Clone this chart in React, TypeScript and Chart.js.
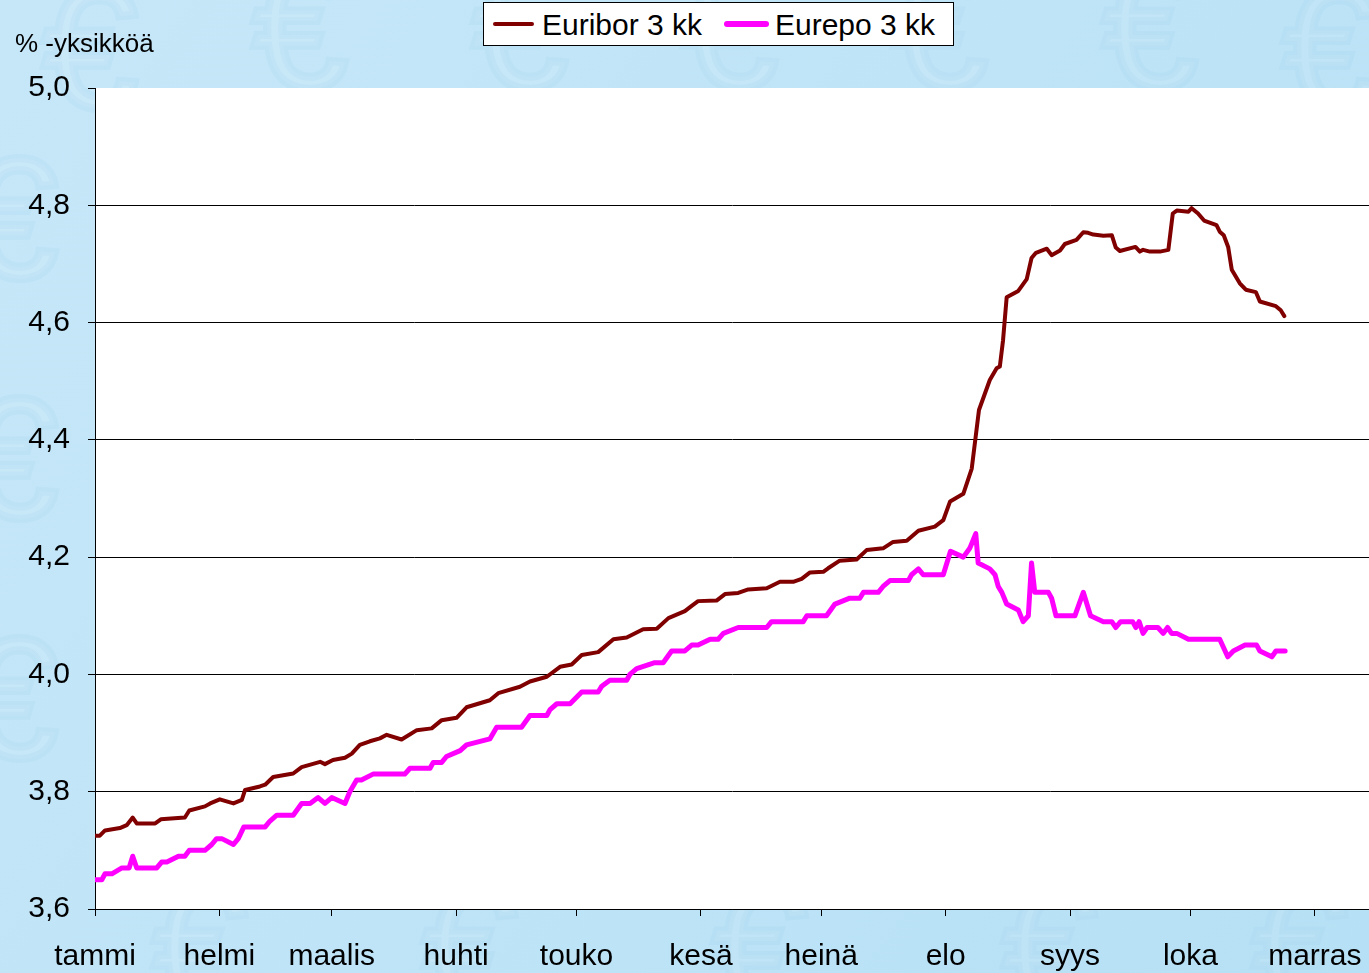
import React, { useEffect, useRef } from 'react';
import { Chart, registerables } from 'chart.js';
Chart.register(...registerables);

const FONT = '"Liberation Sans", Arial, Helvetica, sans-serif';

// Month tick labels (Finnish) and their day-of-year positions
const monthLabels = ['tammi', 'helmi', 'maalis', 'huhti', 'touko', 'kesä', 'heinä', 'elo', 'syys', 'loka', 'marras'];
const monthStartDays = [0, 31, 59, 90, 120, 151, 181, 212, 243, 273, 304];
const yTickValues = [3.6, 3.8, 4.0, 4.2, 4.4, 4.6, 4.8, 5.0];

// Euribor 3 kk (day of year, %)
const euriborDays = [0, 1.2, 2.5, 6.2, 7.9, 9.4, 10.4, 15.0, 16.4, 22.4, 23.5, 27.4, 28.7, 31.1, 34.5, 36.6, 37.4, 41.1, 42.4, 44.4, 49.4, 51.5, 56.1, 57.3, 59.3, 62.3, 64.0, 66.0, 68.5, 71.0, 72.7, 76.4, 80.2, 83.9, 86.4, 90.1, 92.6, 98.4, 100.5, 105.9, 108.4, 112.6, 115.9, 118.8, 121.3, 125.4, 129.2, 132.5, 136.6, 140.0, 142.9, 147.0, 148.7, 150.3, 154.9, 157.0, 160.3, 162.8, 167.4, 170.7, 174.0, 176.1, 178.2, 181.5, 182.7, 185.6, 189.8, 192.3, 196.4, 198.9, 202.3, 205.2, 209.3, 211.4, 213.1, 216.4, 218.5, 220.3, 223.0, 224.7, 225.5, 226.3, 227.2, 230.1, 232.2, 233.4, 234.5, 237.2, 238.4, 240.5, 241.7, 244.6, 246.3, 247.5, 248.8, 251.3, 253.4, 254.4, 255.4, 259.3, 260.4, 261.2, 262.9, 265.4, 267.5, 268.6, 269.6, 272.5, 273.3, 274.9, 276.4, 279.5, 280.3, 281.3, 282.4, 283.3, 285.3, 286.8, 289.3, 290.3, 294.3, 295.5, 296.4];
const euribor = [3.725, 3.725, 3.734, 3.738, 3.743, 3.756, 3.746, 3.746, 3.753, 3.756, 3.768, 3.775, 3.780, 3.787, 3.780, 3.786, 3.803, 3.809, 3.812, 3.825, 3.831, 3.842, 3.851, 3.847, 3.854, 3.858, 3.865, 3.880, 3.886, 3.891, 3.897, 3.889, 3.905, 3.908, 3.922, 3.926, 3.944, 3.956, 3.968, 3.979, 3.988, 3.996, 4.013, 4.017, 4.033, 4.038, 4.060, 4.063, 4.077, 4.078, 4.096, 4.108, 4.117, 4.125, 4.126, 4.137, 4.139, 4.145, 4.147, 4.158, 4.158, 4.163, 4.174, 4.175, 4.181, 4.194, 4.196, 4.212, 4.215, 4.226, 4.228, 4.245, 4.252, 4.263, 4.295, 4.308, 4.351, 4.451, 4.502, 4.522, 4.525, 4.570, 4.643, 4.654, 4.674, 4.710, 4.719, 4.726, 4.715, 4.723, 4.734, 4.741, 4.754, 4.753, 4.750, 4.748, 4.749, 4.728, 4.722, 4.729, 4.721, 4.724, 4.721, 4.721, 4.724, 4.786, 4.791, 4.789, 4.795, 4.786, 4.774, 4.766, 4.755, 4.749, 4.729, 4.690, 4.667, 4.656, 4.652, 4.636, 4.628, 4.621, 4.611];

// Eurepo 3 kk (day of year, %)
const eurepoDays = [0, 1.7, 2.5, 4.2, 6.7, 8.5, 9.4, 10.4, 15.4, 16.6, 17.9, 20.8, 22.4, 23.5, 27.4, 29.1, 30.3, 31.6, 34.5, 35.7, 37.1, 42.4, 43.6, 45.3, 49.4, 51.5, 53.6, 55.6, 57.3, 59.0, 62.3, 63.5, 65.2, 66.4, 69.3, 77.2, 78.5, 83.5, 84.3, 86.4, 87.6, 91.0, 92.6, 98.4, 100.1, 106.3, 108.4, 112.6, 113.4, 115.1, 118.4, 121.3, 125.4, 126.3, 128.3, 132.5, 133.3, 135.0, 139.5, 141.6, 143.7, 147.0, 148.7, 150.3, 153.3, 155.3, 156.6, 160.3, 167.4, 168.6, 176.5, 177.4, 182.3, 184.4, 188.1, 190.6, 191.5, 195.2, 196.4, 198.1, 202.7, 203.5, 205.2, 206.4, 211.4, 213.2, 216.4, 218.0, 219.5, 220.1, 223.0, 224.3, 225.1, 226.0, 227.2, 230.1, 231.3, 232.6, 233.4, 234.2, 237.6, 238.4, 239.5, 244.2, 246.3, 248.1, 251.3, 253.4, 254.4, 255.6, 258.6, 259.4, 260.2, 261.2, 262.2, 264.9, 266.2, 267.3, 268.3, 269.6, 272.5, 280.3, 282.3, 283.7, 286.6, 289.5, 290.3, 293.3, 294.3, 296.6];
const eurepo = [3.65, 3.65, 3.66, 3.66, 3.67, 3.67, 3.69, 3.67, 3.67, 3.68, 3.68, 3.69, 3.69, 3.70, 3.70, 3.71, 3.72, 3.72, 3.71, 3.72, 3.74, 3.74, 3.75, 3.76, 3.76, 3.78, 3.78, 3.79, 3.78, 3.79, 3.78, 3.80, 3.82, 3.82, 3.83, 3.83, 3.84, 3.84, 3.85, 3.85, 3.86, 3.87, 3.88, 3.89, 3.91, 3.91, 3.93, 3.93, 3.94, 3.95, 3.95, 3.97, 3.97, 3.98, 3.99, 3.99, 4.00, 4.01, 4.02, 4.02, 4.04, 4.04, 4.05, 4.05, 4.06, 4.06, 4.07, 4.08, 4.08, 4.09, 4.09, 4.10, 4.10, 4.12, 4.13, 4.13, 4.14, 4.14, 4.15, 4.16, 4.16, 4.17, 4.18, 4.17, 4.17, 4.21, 4.20, 4.215, 4.24, 4.19, 4.18, 4.17, 4.15, 4.14, 4.12, 4.11, 4.09, 4.10, 4.19, 4.14, 4.14, 4.13, 4.10, 4.10, 4.14, 4.10, 4.09, 4.09, 4.08, 4.09, 4.09, 4.08, 4.09, 4.07, 4.08, 4.08, 4.07, 4.08, 4.07, 4.07, 4.06, 4.06, 4.03, 4.04, 4.05, 4.05, 4.04, 4.03, 4.04, 4.04];

const bgPlugin = {
  id: 'bg',
  beforeDraw(chart: any) {
    const { ctx, width, height, chartArea } = chart;
    ctx.save();
    const g = ctx.createLinearGradient(0, 0, width, height);
    g.addColorStop(0, '#c6e7f8');
    g.addColorStop(0.5, '#bfe4f7');
    g.addColorStop(1, '#b6e0f5');
    ctx.fillStyle = g;
    ctx.fillRect(0, 0, width, height);
    // faint decorative euro watermarks
    ctx.font = '170px ' + FONT;
    ctx.textBaseline = 'middle';
    ctx.textAlign = 'center';
    ctx.lineWidth = 8;
    ctx.strokeStyle = 'rgba(150,200,230,0.13)';
    ctx.fillStyle = 'rgba(255,255,255,0.08)';
    const spots = [
      [90, 60], [300, 40], [520, 40], [730, 40], [940, 40], [1150, 40], [1330, 60],
      [10, 230], [10, 470], [10, 710],
      [200, 960], [470, 960], [760, 960], [1050, 960], [1300, 960],
    ];
    for (const [x, y] of spots) {
      ctx.fillText('€', x, y);
      ctx.strokeText('€', x, y);
    }
    ctx.fillStyle = '#ffffff';
    ctx.fillRect(chartArea.left, chartArea.top, chartArea.right - chartArea.left, chartArea.bottom - chartArea.top);
    ctx.restore();
  },
};

export default function App() {
  const ref = useRef<HTMLCanvasElement>(null);
  useEffect(() => {
    document.body.style.margin = '0';
    const chart = new Chart(ref.current!, {
      type: 'line',
      data: {
        datasets: [
          {
            label: 'Eurepo 3 kk',
            data: eurepoDays.map((d, i) => ({ x: d, y: eurepo[i] })),
            borderColor: '#ff00ff',
            borderWidth: 5,
            pointRadius: 0,
            tension: 0,
            borderJoinStyle: 'round',
            borderCapStyle: 'round',
          },
          {
            label: 'Euribor 3 kk',
            data: euriborDays.map((d, i) => ({ x: d, y: euribor[i] })),
            borderColor: '#800000',
            borderWidth: 4,
            pointRadius: 0,
            tension: 0,
            borderJoinStyle: 'round',
            borderCapStyle: 'round',
          },
        ],
      },
      options: {
        animation: false,
        responsive: false,
        layout: { padding: { top: 88, left: 0, right: 0, bottom: 0 } },
        plugins: { legend: { display: false }, tooltip: { enabled: false } },
        scales: {
          x: {
            type: 'linear',
            min: 0,
            max: 317.5,
            afterBuildTicks: (s: any) => {
              s.ticks = monthStartDays.map((v) => ({ value: v }));
            },
            afterFit: (s: any) => {
              s.height = 64;
              s.paddingLeft = 0;
              s.paddingRight = 0;
            },
            ticks: {
              autoSkip: false,
              maxRotation: 0,
              minRotation: 0,
              padding: 23,
              color: '#000',
              font: { family: FONT, size: 30 },
              callback: (v: any) => {
                const i = monthStartDays.indexOf(Number(v));
                return i >= 0 ? monthLabels[i] : '';
              },
            },
            grid: { drawOnChartArea: false, tickLength: 7, color: '#000', tickColor: '#000' },
            border: { color: '#000', width: 1 },
          },
          y: {
            min: 3.6,
            max: 5.0,
            afterBuildTicks: (s: any) => {
              s.ticks = yTickValues.map((v) => ({ value: v }));
            },
            afterFit: (s: any) => {
              s.width = 95;
              s.paddingTop = 0;
              s.paddingBottom = 0;
            },
            ticks: {
              padding: 18,
              color: '#000',
              font: { family: FONT, size: 30 },
              callback: (v: any) => Number(v).toFixed(1).replace('.', ','),
            },
            grid: {
              color: (c: any) => (c.tick && Math.abs(c.tick.value - 5) < 1e-6 ? 'rgba(0,0,0,0)' : '#000'),
              tickColor: '#000',
              tickLength: 7,
              lineWidth: 1,
            },
            border: { color: '#000', width: 1 },
          },
        },
      },
      plugins: [bgPlugin],
    });
    return () => chart.destroy();
  }, []);

  return (
    <div style={{ position: 'relative', width: 1369, height: 973, overflow: 'hidden', fontFamily: FONT }}>
      <canvas ref={ref} width={1369} height={973} style={{ display: 'block', position: 'absolute', left: 0, top: 0 }} />
      <div style={{ position: 'absolute', left: 15, top: 30, fontSize: 26, lineHeight: '26px', color: '#000', whiteSpace: 'nowrap' }}>
        % -yksikköä
      </div>
      <div
        style={{
          position: 'absolute',
          left: 483,
          top: 2,
          width: 469,
          height: 42,
          border: '1px solid #000',
          background: '#fff',
        }}
      >
        <div style={{ position: 'absolute', left: 9, top: 19, width: 41, height: 4, background: '#800000', borderRadius: 2 }} />
        <div style={{ position: 'absolute', left: 58, top: 7, fontSize: 30, lineHeight: '30px', whiteSpace: 'nowrap', color: '#000' }}>
          Euribor 3 kk
        </div>
        <div style={{ position: 'absolute', left: 240, top: 18, width: 45, height: 6, background: '#ff00ff', borderRadius: 3 }} />
        <div style={{ position: 'absolute', left: 291, top: 7, fontSize: 30, lineHeight: '30px', whiteSpace: 'nowrap', color: '#000' }}>
          Eurepo 3 kk
        </div>
      </div>
    </div>
  );
}
